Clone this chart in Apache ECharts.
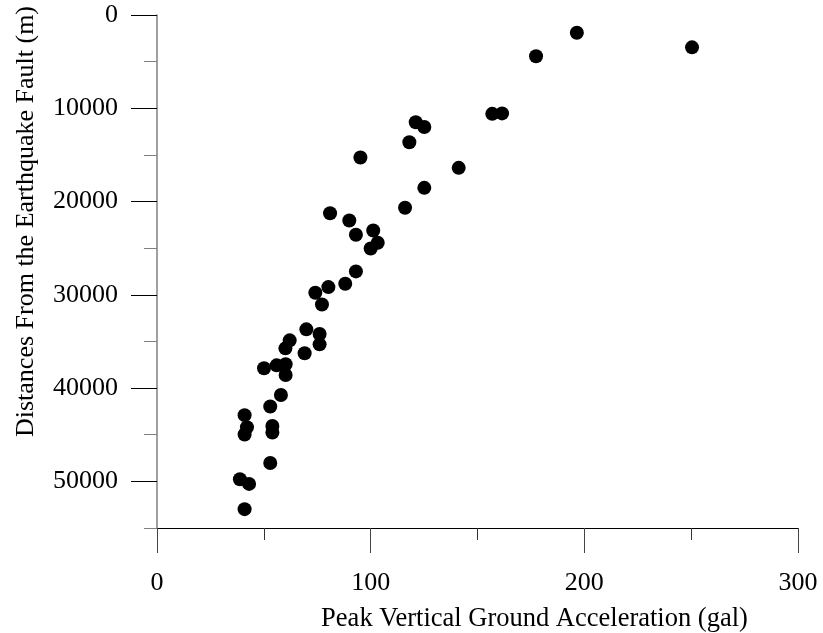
<!DOCTYPE html>
<html>
<head>
<meta charset="utf-8">
<script src="https://cdn.jsdelivr.net/npm/echarts@6/dist/echarts.min.js"></script>
<style>html,body{margin:0;padding:0;background:#fff}#c{width:823px;height:633px}</style>
</head>
<body>
<div id="c"></div>
<script>
const accel = [250.4,196.5,177.4,156.9,161.5,121.1,125.1,118.1,95.2,141.2,125.1,116.1,81.0,90.0,93.1,101.2,103.3,100.0,93.1,88.1,80.2,74.1,77.2,69.9,76.1,76.1,69.1,62.1,60.1,50.1,56.0,60.2,60.2,58.0,53.0,41.0,42.1,41.0,54.0,54.0,53.0,38.8,43.1,41.0];
const distance = [3470,1900,4430,10600,10550,11500,12000,13650,15280,16390,18530,20670,21250,22030,23560,23100,24420,25030,27490,28810,29170,29780,31030,33700,34200,35310,36270,34880,35740,37880,37560,37450,38600,40740,41980,42900,44200,44980,44060,44770,48030,49770,50270,52980];
const xMajorTicks = [0,100,200,300];
const xMinorTicks = [50,150,250];
const yMajorTicks = [0,10000,20000,30000,40000,50000];
const yMinorTicks = [5000,15000,25000,35000,45000,55000];
const xTitle = 'Peak Vertical Ground Acceleration (gal)';
const yTitle = 'Distances From the Earthquake Fault (m)';

const FONT = 'Liberation Serif';
const chart = echarts.init(document.getElementById('c'));
const points = accel.map((v,i)=>[v, distance[i]]);
chart.setOption({
  animation:false,
  backgroundColor:'#fff',
  grid:{left:157,right:25,top:15,bottom:105,containLabel:false,outerBoundsMode:'none'},
  xAxis:[
    {type:'value',min:0,max:300,interval:50,position:'bottom',
     axisLine:{show:true,onZero:false,lineStyle:{color:'#000',width:1}},
     axisTick:{show:true,length:12,customValues:xMinorTicks,lineStyle:{color:'#333'}},
     axisLabel:{show:false},splitLine:{show:false}},
    {type:'value',min:0,max:300,interval:100,position:'bottom',
     axisLine:{show:false,onZero:false},
     axisTick:{show:true,length:25,customValues:xMajorTicks,lineStyle:{color:'#444'}},
     axisLabel:{show:true,customValues:xMajorTicks,margin:42,color:'#000',fontFamily:FONT,fontSize:26,
       formatter:v=>String(v)},
     splitLine:{show:false},
     name:xTitle,nameLocation:'middle',nameGap:78,
     nameTextStyle:{color:'#000',fontFamily:FONT,fontSize:26.5,padding:[0,0,0,114]}}
  ],
  yAxis:[
    {type:'value',min:0,max:55000,inverse:true,position:'left',
     axisLine:{show:true,onZero:false,lineStyle:{color:'#808080',width:1.5}},
     axisTick:{show:true,length:13,customValues:yMinorTicks,lineStyle:{color:'#808080'}},
     axisLabel:{show:false},splitLine:{show:false}},
    {type:'value',min:0,max:55000,inverse:true,position:'left',
     axisLine:{show:false,onZero:false},
     axisTick:{show:true,length:26,customValues:yMajorTicks,lineStyle:{color:'#000'}},
     axisLabel:{show:true,customValues:yMajorTicks,margin:39,color:'#000',fontFamily:FONT,fontSize:26,
       formatter:v=>String(v)},
     splitLine:{show:false},
     name:yTitle,nameLocation:'middle',nameGap:118,nameRotate:90,
     nameTextStyle:{color:'#000',fontFamily:FONT,fontSize:26,padding:[0,0,0,100]}}
  ],
  series:[{type:'scatter',xAxisIndex:0,yAxisIndex:0,data:points,symbol:'circle',symbolSize:14,
    itemStyle:{color:'#000',opacity:1},silent:true}]
});
</script>
</body>
</html>
